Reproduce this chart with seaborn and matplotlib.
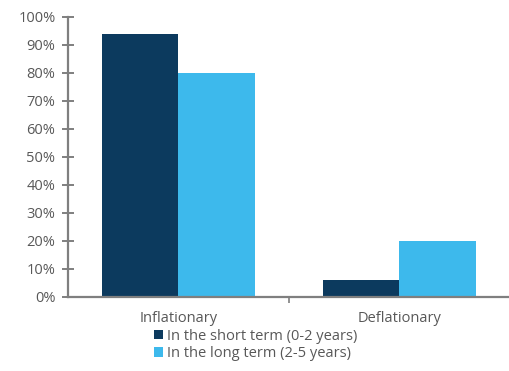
import matplotlib
matplotlib.use("Agg")
import matplotlib.pyplot as plt
import seaborn as sns
import pandas as pd
from matplotlib.ticker import PercentFormatter, FixedLocator

categories = ["Inflationary", "Deflationary"]
series = ["In the short term (0-2 years)", "In the long term (2-5 years)"]
short_term = [94, 6]
long_term = [80, 20]
colors = ["#0c3a5e", "#3db9ec"]

df = pd.DataFrame({
    "category": categories * 2,
    "series": [series[0]] * 2 + [series[1]] * 2,
    "value": short_term + long_term,
})

sns.set_theme(style="white")
plt.rcParams["font.family"] = ["Open Sans", "DejaVu Sans"]

fig = plt.figure(figsize=(5.10, 3.71), dpi=100)
ax = fig.add_axes([68 / 510, 1 - 297 / 371, (510 - 68) / 510, (297 - 17) / 371])

sns.barplot(data=df, x="category", y="value", hue="series", order=categories,
            hue_order=series, palette=colors, width=0.69, saturation=1,
            edgecolor="none", ax=ax)

ax.set_xlim(-0.5, 1.5)
ax.set_ylim(0, 100)
ax.set_yticks(range(0, 101, 10))
ax.yaxis.set_major_formatter(PercentFormatter(decimals=0))
ax.set_xlabel("")
ax.set_ylabel("")

grey = "#7f7f7f"
text_grey = "#585858"
for side in ("top", "right"):
    ax.spines[side].set_visible(False)
for side in ("left", "bottom"):
    ax.spines[side].set_color(grey)
    ax.spines[side].set_linewidth(1.6)

ax.tick_params(axis="y", direction="inout", length=8, width=1.4, color=grey,
               labelsize=10.5, labelcolor=text_grey, left=True, pad=5)
ax.tick_params(axis="x", which="major", length=0, labelsize=10.5,
               labelcolor=text_grey, pad=10)
ax.xaxis.set_minor_locator(FixedLocator([0.5, 1.5]))
ax.tick_params(axis="x", which="minor", bottom=True, direction="out",
               length=4, width=1.2, color=grey)

leg = ax.legend(loc="upper left", bbox_to_anchor=(154 / 510, 1 - 329 / 371),
                bbox_transform=fig.transFigure, frameon=False, fontsize=10.5,
                handlelength=0.6, handleheight=0.6, handletextpad=0.3,
                labelspacing=0.15, borderaxespad=0, borderpad=0)
for t in leg.get_texts():
    t.set_color(text_grey)

fig.savefig("out.png", dpi=100)
